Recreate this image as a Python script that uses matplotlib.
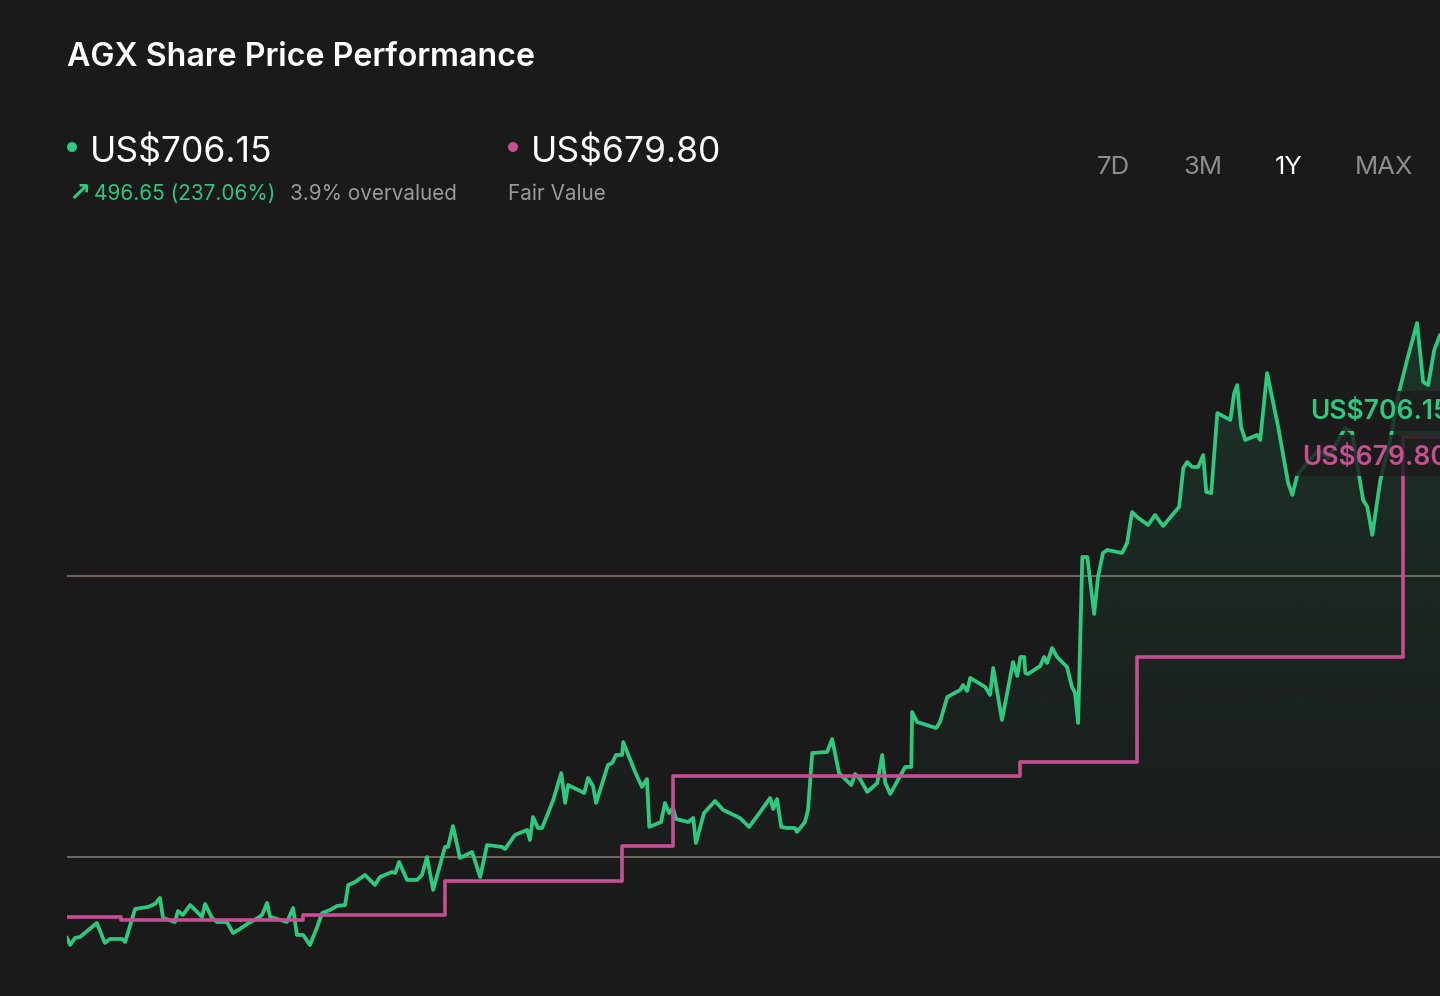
import numpy as np
import matplotlib
matplotlib.use("Agg")
import matplotlib.pyplot as plt
from matplotlib.patches import Ellipse, Rectangle

# ---------------- data ----------------
days = [0, 0.8, 2.1, 3.4, 7.8, 9.9, 11.2, 14.4, 15.2, 17.8, 21.2, 23.0, 24.3, 25.1, 28.2, 29.0,
        30.3, 32.2, 35.3, 36.1, 37.9, 39.2, 41.8, 43.4, 45.2, 47.1, 49.9, 51.0, 52.3, 53.1, 57.5,
        59.1, 60.1, 61.7, 63.5, 65.4, 66.7, 68.8, 70.6, 72.7, 73.5, 75.3, 77.9, 79.2, 80.5, 81.8,
        85.0, 85.8, 86.8, 88.9, 91.5, 92.8, 94.1, 95.7, 98.8, 99.6, 100.9, 102.7, 105.9, 108.0,
        109.8, 113.7, 114.5, 117.1, 120.3, 121.0, 121.8, 123.1, 124.2, 127.1, 129.2, 130.2, 131.0,
        135.2, 136.2, 137.5, 138.3, 141.4, 142.5, 143.5, 145.1, 145.4, 148.5, 150.3, 151.6, 152.2,
        155.3, 156.3, 157.4, 158.4, 159.2, 162.4, 163.7, 164.4, 166.5, 169.4, 171.5, 175.9, 178.3,
        181.2, 183.8, 184.6, 185.6, 186.7, 188.2, 190.3, 190.8, 192.9, 193.7, 194.8, 198.7, 200.0,
        201.8, 205.0, 206.0, 207.3, 209.2, 211.8, 213.1, 213.9, 215.2, 219.1, 220.7, 220.9, 222.2,
        227.2, 228.2, 230.1, 233.5, 234.2, 235.3, 236.1, 240.0, 241.3, 242.1, 244.4, 247.3, 248.4,
        249.2, 250.2, 250.5, 251.2, 254.4, 255.4, 256.2, 257.5, 258.8, 261.4, 262.7, 263.5, 264.3,
        265.4, 266.7, 268.5, 269.5, 270.8, 271.9, 275.8, 277.1, 278.4, 279.7, 282.6, 284.4, 286.5,
        290.7, 291.8, 292.8, 294.1, 295.7, 297.0, 297.8, 299.1, 300.7, 304.1, 305.1, 305.9, 306.9,
        308.0, 311.1, 311.9, 313.7, 316.6, 319.2, 320.3, 321.6, 323.7, 327.1, 329.7, 332.3, 334.1,
        335.9, 337.5, 338.8, 339.9, 341.2, 343.3, 345.9, 348.0, 350.3, 352.9, 354.5, 355.8, 357.4,
        358.9, 361.0, 363.1, 365.0]

prices = [211.4, 204.8, 211.4, 212.3, 225.4, 206.7, 210.4, 210.4, 207.6, 238.5, 240.4, 243.2,
          248.8, 230.1, 226.3, 236.6, 232.9, 242.2, 231.0, 243.2, 230.1, 226.3, 226.3, 216.0,
          219.8, 224.5, 230.1, 232.9, 244.1, 231.0, 226.3, 239.4, 214.2, 214.2, 204.8, 221.7,
          234.7, 237.6, 241.3, 242.2, 260.9, 263.7, 270.3, 265.6, 260.9, 268.4, 273.1, 272.1,
          282.4, 265.6, 265.6, 270.3, 287.1, 256.3, 296.5, 296.5, 316.1, 286.2, 291.8, 268.4,
          298.3, 296.5, 294.6, 307.7, 312.4, 303.0, 324.5, 314.2, 314.2, 340.4, 365.6, 337.6,
          354.4, 346.9, 361.0, 353.5, 337.6, 373.1, 375.0, 382.5, 382.5, 394.6, 366.6, 352.6,
          360.0, 315.2, 319.8, 337.6, 328.2, 332.9, 322.6, 319.8, 323.6, 300.2, 328.2, 339.5,
          331.1, 323.6, 315.2, 329.2, 342.3, 332.0, 341.3, 315.2, 314.2, 314.2, 310.5, 319.8,
          331.1, 384.3, 385.3, 397.4, 365.6, 354.4, 364.7, 360.0, 347.9, 356.3, 382.5, 356.3,
          346.0, 371.3, 371.3, 422.7, 413.3, 407.7, 413.3, 436.7, 443.3, 447.9, 442.3, 454.5,
          446.1, 438.6, 463.8, 415.2, 469.4, 456.3, 474.1, 474.1, 459.1, 458.2, 465.7, 474.1,
          468.5, 482.5, 474.1, 464.8, 446.1, 440.4, 412.4, 567.6, 567.6, 514.3, 548.9, 571.3,
          574.2, 571.3, 580.7, 609.7, 605.0, 597.5, 606.9, 596.6, 614.4, 650.8, 656.4, 651.8,
          651.8, 663.0, 628.4, 627.4, 702.2, 695.7, 720.9, 728.4, 689.2, 677.0, 681.7, 677.0,
          739.6, 689.2, 636.8, 625.6, 644.3, 653.6, 667.7, 660.2, 677.0, 688.2, 684.5, 649.0,
          620.9, 614.4, 588.2, 639.6, 677.0, 719.1, 751.8, 786.4, 731.2, 728.4, 761.2, 775.2,
          752.0, 725.0, 706.15]

fv_days = [0, 14.1, 61.7, 98.8, 145.1, 158.4, 249.2, 279.7, 349.3, 365.0]
fv_values = [231.0, 228.2, 232.9, 264.7, 297.4, 362.8, 375.9, 474.1, 679.8, 679.8]

grid_values = [287.0, 550.0]

title = "AGX Share Price Performance"
last_price = "US$706.15"
fair_value = "US$679.80"
change_text = "496.65 (237.06%)"
valuation_text = "3.9% overvalued"
fv_caption = "Fair Value"
tabs = ["7D", "3M", "1Y", "MAX"]
active_tab = "1Y"

# ---------------- style ----------------
W, H = 1440, 996
BG = "#1a1a1a"
GREEN = "#2ec97f"
PINK = "#c64f94"
GRAY = "#8e8e8e"
GRID = "#6e6a5f"
FONT = ["Inter", "DejaVu Sans"]

plt.rcParams["font.family"] = FONT

fig = plt.figure(figsize=(W / 100, H / 100), dpi=100, facecolor=BG)


def fx(px):
    return px / W


def fy(py):
    return 1 - py / H


# plot axes: px 67 .. 1440 horizontally, px 220 .. 996 vertically
ax = fig.add_axes([fx(67), 0, 1 - fx(67), fy(220)])
ax.set_facecolor(BG)
for s in ax.spines.values():
    s.set_visible(False)
ax.set_xticks([])
ax.set_yticks([])

xmin, xmax = 0, 358.9
ymin, ymax = 157.1, 882.7

# gridlines
for g in grid_values:
    ax.axhline(g, color=GRID, lw=1.4, zorder=2)

# gradient fill under price line
poly = ax.fill_between(days, prices, ymin, color="none", lw=0)
n = 256
alpha = np.linspace(0.0, 1.0, n) ** 1.3 * 0.18
img = np.zeros((n, 2, 4))
rgb = matplotlib.colors.to_rgb(GREEN)
img[:, :, 0] = rgb[0]
img[:, :, 1] = rgb[1]
img[:, :, 2] = rgb[2]
img[:, :, 3] = alpha[:, None]
im = ax.imshow(img, extent=[xmin, 366, ymin, ymax], origin="lower",
               aspect="auto", zorder=1, interpolation="bilinear")
im.set_clip_path(poly.get_paths()[0], transform=ax.transData)

ax.plot(days, prices, color=GREEN, lw=2.7, zorder=3, solid_joinstyle="round")
ax.step(fv_days, fv_values, where="post", color=PINK, lw=2.6, zorder=4)

ax.set_xlim(xmin, xmax)
ax.set_ylim(ymin, ymax)

# value label boxes on the right
fig.add_artist(Rectangle((fx(1296), fy(431)), fx(160), 40 / H, transform=fig.transFigure,
                         facecolor="#1c1c1c", alpha=0.82, edgecolor="none", zorder=5))
fig.add_artist(Rectangle((fx(1290), fy(476)), fx(160), 41 / H, transform=fig.transFigure,
                         facecolor="#1c1c1c", alpha=0.82, edgecolor="none", zorder=5))
fig.text(fx(1310), fy(419), last_price, color=GREEN, fontsize=19, fontweight="semibold",
         va="baseline", ha="left", zorder=6)
fig.text(fx(1302), fy(465), fair_value, color=PINK, fontsize=19, fontweight="semibold",
         va="baseline", ha="left", zorder=6)

# header
fig.text(fx(67), fy(66), title, color="white", fontsize=23.2, fontweight="semibold",
         va="baseline", ha="left")

fig.add_artist(Ellipse((fx(72), fy(147)), 10 / W, 10 / H, transform=fig.transFigure,
                       facecolor=GREEN, edgecolor="none"))
fig.text(fx(90), fy(162), last_price, color="white", fontsize=25.5, va="baseline", ha="left")
fig.add_artist(Ellipse((fx(513), fy(147)), 10 / W, 10 / H, transform=fig.transFigure,
                       facecolor=PINK, edgecolor="none"))
fig.text(fx(531), fy(162), fair_value, color="white", fontsize=25.5, va="baseline", ha="left")

fig.text(fx(68), fy(201), "\u2197", color=GREEN, fontsize=19, va="baseline", ha="left",
         family=["DejaVu Sans"], fontweight="bold")
fig.text(fx(94), fy(200), change_text, color=GREEN, fontsize=14.9, va="baseline", ha="left")
fig.text(fx(290), fy(200), valuation_text, color="#9a9a9a", fontsize=14.9, va="baseline",
         ha="left")
fig.text(fx(508), fy(200), fv_caption, color="#9a9a9a", fontsize=14.9, va="baseline",
         ha="left")

tab_x = [1113, 1203, 1289, 1384]
for t, x in zip(tabs, tab_x):
    fig.text(fx(x), fy(174), t, color="white" if t == active_tab else GRAY,
             fontsize=18.5, va="baseline", ha="center")

fig.savefig("out.png", dpi=100, facecolor=BG)
